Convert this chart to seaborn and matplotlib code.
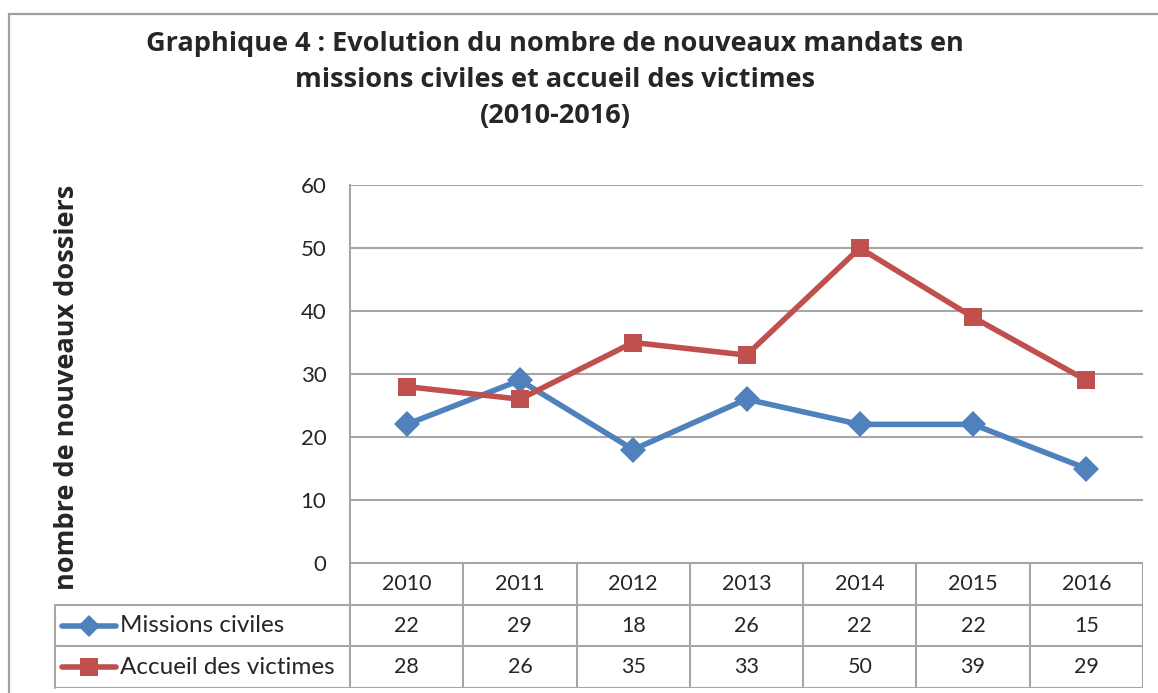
"""
Graphique 4 : nouveaux mandats en missions civiles et accueil des victimes (2010-2016).
Courbes + table de données en dessous, façon graphique Excel.
"""
import matplotlib
matplotlib.use("Agg")
import matplotlib.pyplot as plt
from matplotlib.patches import Rectangle
from matplotlib.lines import Line2D
import pandas as pd
import seaborn as sns

years = ["2010", "2011", "2012", "2013", "2014", "2015", "2016"]
missions_civiles = [22, 29, 18, 26, 22, 22, 15]
accueil_victimes = [28, 26, 35, 33, 50, 39, 29]
series_names = ["Missions civiles", "Accueil des victimes"]
y_ticks = [0, 10, 20, 30, 40, 50, 60]

title = ("Graphique 4 : Evolution du nombre de nouveaux mandats en\n"
         "missions civiles et accueil des victimes\n(2010-2016)")
ylabel = "nombre de nouveaux dossiers"

BLUE = "#4F81BD"
RED = "#C0504D"
GRID = "#A6A6A6"

sns.set_theme(style="white")
plt.rcParams["font.family"] = ["Lato", "DejaVu Sans"]
BOLD_FONT = ["Open Sans", "DejaVu Sans"]

W, H = 1158, 693
fig = plt.figure(figsize=(W / 100, H / 100), dpi=100)

# cadre extérieur
fig.patches.append(Rectangle((9 / W, -0.2), 1.5, 1.2 - 14 / H, transform=fig.transFigure,
                             fill=False, edgecolor="#A0A0A0", linewidth=1.6, clip_on=False))

df = pd.DataFrame({
    "idx": list(range(len(years))) * 2,
    "value": missions_civiles + accueil_victimes,
    "serie": [series_names[0]] * len(years) + [series_names[1]] * len(years),
})

# zone de tracé
left, right, top, bottom = 350, 1143, 185, 563
ax = fig.add_axes([left / W, 1 - bottom / H, (right - left) / W, (bottom - top) / H])
sns.lineplot(data=df, x="idx", y="value", hue="serie", style="serie",
             palette={series_names[0]: BLUE, series_names[1]: RED},
             markers={series_names[0]: "D", series_names[1]: "s"},
             dashes=False, linewidth=4, markersize=13.5, markeredgewidth=0,
             legend=False, ax=ax)
ax.set_xlim(-0.5, len(years) - 0.5)
ax.set_ylim(0, 60)
ax.set_yticks(y_ticks)
ax.set_xticks([])
ax.set_xlabel("")
ax.set_ylabel("")
ax.tick_params(axis="y", labelsize=16, length=0, pad=17)
for t in y_ticks:
    ax.axhline(t, color=GRID, linewidth=1.5, zorder=0)
for s in ["top", "right", "bottom"]:
    ax.spines[s].set_visible(False)
ax.spines["left"].set_color(GRID)
ax.spines["left"].set_linewidth(1.5)
ax.patch.set_alpha(0)

fig.text(67 / W, 1 - 387 / H, ylabel, rotation=90, ha="center", va="center",
         fontsize=19.5, fontweight="bold", family=BOLD_FONT)
fig.text(555 / W, 1 - 80 / H, title, ha="center", va="center",
         fontsize=19.5, fontweight="bold", family=BOLD_FONT, linespacing=1.5)

# table de données
tleft, tbottom = 55, 688
colw = (right - left) / len(years)
xmin = -0.5 - (left - tleft) / colw
tab = fig.add_axes([tleft / W, 1 - tbottom / H, (right - tleft) / W, (tbottom - bottom) / H])
tab.set_xlim(xmin, len(years) - 0.5)
tab.set_ylim(3, 0)
tab.axis("off")

lw = 1.5
tab.plot([-0.5, len(years) - 0.5], [0, 0], color=GRID, lw=lw)
for r in [1, 2, 3]:
    tab.plot([xmin, len(years) - 0.5], [r, r], color=GRID, lw=lw)
for i in range(len(years) + 1):
    tab.plot([i - 0.5, i - 0.5], [0, 3], color=GRID, lw=lw)
tab.plot([xmin, xmin], [1, 3], color=GRID, lw=lw, clip_on=False)

for i, yr in enumerate(years):
    tab.text(i, 0.5, yr, ha="center", va="center", fontsize=15.5)
    tab.text(i, 1.5, str(missions_civiles[i]), ha="center", va="center", fontsize=15.5)
    tab.text(i, 2.5, str(accueil_victimes[i]), ha="center", va="center", fontsize=15.5)


def px(x):
    return xmin + (x - tleft) / colw


for r, name, col, mk in [(1.5, series_names[0], BLUE, "D"), (2.5, series_names[1], RED, "s")]:
    tab.add_line(Line2D([px(62), px(116)], [r, r], color=col, lw=4, solid_capstyle="round"))
    tab.plot([px(89)], [r], marker=mk, color=col, markersize=13 if mk == "s" else 11,
             markeredgewidth=0)
    tab.text(px(120), r, name, ha="left", va="center", fontsize=17.5)

fig.savefig("out.png", dpi=100)
